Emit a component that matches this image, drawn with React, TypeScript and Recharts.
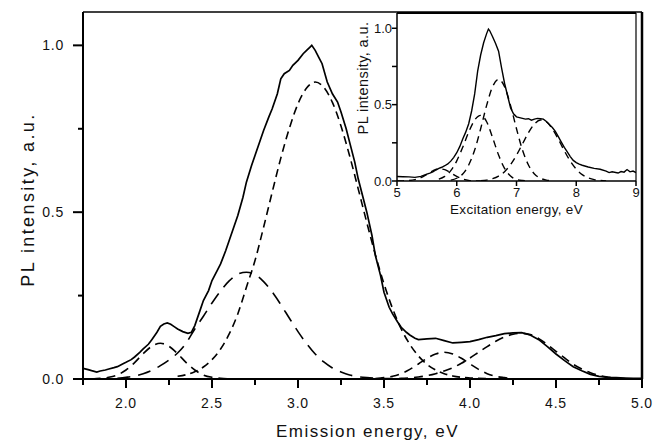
import React from "react";
import { LineChart, Line, XAxis, YAxis, ReferenceLine, Label } from "recharts";

type Pair = [number, number];

// main panel: measured emission spectrum and the fitted bands (energy eV, intensity)
const emissionMeasured: Pair[] = [
  [1.75, 0.032], [1.78, 0.028], [1.8, 0.025], [1.83, 0.021], [1.85, 0.024], [1.88, 0.027],
  [1.9, 0.03], [1.93, 0.034], [1.95, 0.037], [1.98, 0.045], [2.0, 0.05], [2.03, 0.058],
  [2.05, 0.066], [2.08, 0.08], [2.1, 0.09], [2.13, 0.104], [2.15, 0.118], [2.18, 0.14],
  [2.2, 0.158], [2.22, 0.165], [2.24, 0.168], [2.26, 0.164], [2.28, 0.157], [2.3, 0.15],
  [2.33, 0.142], [2.36, 0.137], [2.38, 0.14], [2.4, 0.16], [2.43, 0.205], [2.45, 0.235],
  [2.48, 0.265], [2.5, 0.295], [2.53, 0.325], [2.55, 0.345], [2.58, 0.385], [2.6, 0.415],
  [2.63, 0.46], [2.65, 0.49], [2.68, 0.545], [2.7, 0.59], [2.73, 0.64], [2.75, 0.67],
  [2.78, 0.715], [2.8, 0.745], [2.83, 0.785], [2.85, 0.81], [2.88, 0.855], [2.9, 0.9],
  [2.92, 0.915], [2.95, 0.925], [2.97, 0.94], [3.0, 0.955], [3.03, 0.975], [3.05, 0.985],
  [3.07, 0.995], [3.08, 1.0], [3.1, 0.985], [3.12, 0.965], [3.14, 0.945], [3.17, 0.89],
  [3.2, 0.855], [3.23, 0.83], [3.25, 0.8], [3.28, 0.75], [3.3, 0.71], [3.33, 0.65],
  [3.35, 0.6], [3.38, 0.54], [3.4, 0.5], [3.43, 0.43], [3.45, 0.37], [3.48, 0.31],
  [3.5, 0.26], [3.53, 0.215], [3.55, 0.195], [3.58, 0.17], [3.6, 0.155], [3.63, 0.14],
  [3.65, 0.132], [3.68, 0.122], [3.7, 0.118], [3.75, 0.12], [3.8, 0.122], [3.85, 0.115],
  [3.9, 0.108], [3.95, 0.11], [4.0, 0.112], [4.05, 0.118], [4.1, 0.125], [4.15, 0.13],
  [4.2, 0.136], [4.25, 0.138], [4.3, 0.139], [4.35, 0.132], [4.4, 0.118], [4.45, 0.097],
  [4.5, 0.075], [4.55, 0.055], [4.6, 0.037], [4.65, 0.025], [4.7, 0.014], [4.75, 0.008],
  [4.8, 0.005], [4.85, 0.004], [4.9, 0.003], [4.95, 0.002], [5.0, 0.002],
];

const emissionBand22: Pair[] = [
  [1.8, 0.0], [1.85, 0.002], [1.9, 0.005], [1.95, 0.012], [2.0, 0.027], [2.05, 0.049],
  [2.1, 0.076], [2.15, 0.098], [2.2, 0.107], [2.25, 0.098], [2.3, 0.076], [2.35, 0.049],
  [2.4, 0.027], [2.45, 0.012], [2.5, 0.005], [2.55, 0.002], [2.6, 0.0],
];

const emissionBand27: Pair[] = [
  [1.95, 0.002], [2.0, 0.005], [2.05, 0.009], [2.1, 0.016], [2.15, 0.026], [2.2, 0.04],
  [2.25, 0.057], [2.3, 0.078], [2.35, 0.108], [2.4, 0.15], [2.45, 0.188], [2.5, 0.228],
  [2.55, 0.264], [2.6, 0.294], [2.65, 0.314], [2.7, 0.32], [2.75, 0.313], [2.8, 0.292],
  [2.85, 0.261], [2.9, 0.223], [2.95, 0.182], [3.0, 0.142], [3.05, 0.106], [3.1, 0.075],
  [3.15, 0.051], [3.2, 0.033], [3.25, 0.021], [3.3, 0.012], [3.35, 0.007], [3.4, 0.004],
  [3.5, 0.001],
];

const emissionBand31: Pair[] = [
  [2.3, 0.008], [2.35, 0.013], [2.4, 0.022], [2.45, 0.036], [2.5, 0.058], [2.55, 0.09],
  [2.6, 0.135], [2.65, 0.195], [2.7, 0.275], [2.75, 0.355], [2.8, 0.455], [2.85, 0.56],
  [2.9, 0.662], [2.95, 0.752], [3.0, 0.825], [3.05, 0.872], [3.1, 0.89], [3.15, 0.874],
  [3.2, 0.829], [3.25, 0.758], [3.3, 0.669], [3.35, 0.57], [3.4, 0.469], [3.45, 0.372],
  [3.5, 0.285], [3.55, 0.211], [3.6, 0.15], [3.65, 0.104], [3.7, 0.069], [3.75, 0.044],
  [3.8, 0.027], [3.85, 0.016], [3.9, 0.009], [3.95, 0.005], [4.0, 0.003], [4.1, 0.001],
];

const emissionBand385: Pair[] = [
  [3.45, 0.001], [3.5, 0.004], [3.55, 0.008], [3.6, 0.016], [3.65, 0.029], [3.7, 0.045],
  [3.75, 0.062], [3.8, 0.075], [3.85, 0.08], [3.9, 0.075], [3.95, 0.062], [4.0, 0.045],
  [4.05, 0.029], [4.1, 0.016], [4.15, 0.008], [4.2, 0.004], [4.25, 0.001],
];

const emissionBand43: Pair[] = [
  [3.5, 0.001], [3.55, 0.001], [3.6, 0.002], [3.65, 0.003], [3.7, 0.006], [3.75, 0.01],
  [3.8, 0.016], [3.85, 0.024], [3.9, 0.034], [3.95, 0.047], [4.0, 0.063], [4.05, 0.08],
  [4.1, 0.097], [4.15, 0.113], [4.2, 0.126], [4.25, 0.134], [4.3, 0.137], [4.35, 0.133],
  [4.4, 0.121], [4.45, 0.103], [4.5, 0.083], [4.55, 0.063], [4.6, 0.044], [4.65, 0.03],
  [4.7, 0.019], [4.75, 0.011], [4.8, 0.006], [4.85, 0.003], [4.9, 0.001], [5.0, 0.0],
];

// inset: excitation spectrum and its bands
const excitationMeasured: Pair[] = [
  [5.0, 0.029], [5.1, 0.028], [5.2, 0.027], [5.3, 0.024], [5.4, 0.03], [5.5, 0.045],
  [5.55, 0.052], [5.6, 0.06], [5.65, 0.072], [5.7, 0.082], [5.75, 0.09], [5.8, 0.1],
  [5.85, 0.112], [5.9, 0.13], [5.95, 0.155], [6.0, 0.185], [6.05, 0.225], [6.1, 0.275],
  [6.15, 0.32], [6.2, 0.375], [6.25, 0.46], [6.3, 0.57], [6.35, 0.72], [6.4, 0.825],
  [6.45, 0.905], [6.5, 0.965], [6.53, 0.995], [6.55, 0.985], [6.6, 0.945], [6.65, 0.9],
  [6.7, 0.85], [6.75, 0.74], [6.8, 0.64], [6.85, 0.56], [6.9, 0.48], [6.95, 0.44],
  [7.0, 0.42], [7.05, 0.415], [7.1, 0.41], [7.15, 0.405], [7.2, 0.408], [7.25, 0.398],
  [7.3, 0.405], [7.35, 0.41], [7.4, 0.408], [7.45, 0.405], [7.5, 0.39], [7.55, 0.37],
  [7.6, 0.35], [7.65, 0.325], [7.7, 0.29], [7.75, 0.255], [7.8, 0.22], [7.85, 0.19],
  [7.9, 0.16], [7.95, 0.135], [8.0, 0.12], [8.05, 0.11], [8.1, 0.103], [8.2, 0.092],
  [8.3, 0.083], [8.4, 0.077], [8.5, 0.065], [8.55, 0.055], [8.6, 0.06], [8.7, 0.052],
  [8.75, 0.062], [8.8, 0.058], [8.85, 0.075], [8.9, 0.06], [8.95, 0.065], [9.0, 0.055],
];

const excitationBand57: Pair[] = [
  [5.0, 0.0], [5.1, 0.001], [5.2, 0.003], [5.3, 0.009], [5.4, 0.022], [5.5, 0.044],
  [5.6, 0.067], [5.7, 0.08], [5.8, 0.074], [5.9, 0.053], [6.0, 0.03], [6.1, 0.013],
  [6.2, 0.004], [6.3, 0.001], [6.4, 0.0],
];

const excitationBand64: Pair[] = [
  [5.7, 0.012], [5.8, 0.03], [5.9, 0.068], [6.0, 0.132], [6.1, 0.221], [6.2, 0.32],
  [6.3, 0.399], [6.4, 0.43], [6.5, 0.388], [6.6, 0.284], [6.7, 0.17], [6.8, 0.083],
  [6.9, 0.033], [7.0, 0.01], [7.1, 0.003], [7.2, 0.001],
];

const excitationBand67: Pair[] = [
  [5.9, 0.006], [6.0, 0.018], [6.1, 0.046], [6.2, 0.105], [6.3, 0.203], [6.4, 0.342],
  [6.5, 0.495], [6.6, 0.618], [6.7, 0.665], [6.8, 0.618], [6.9, 0.495], [7.0, 0.342],
  [7.1, 0.203], [7.2, 0.105], [7.3, 0.046], [7.4, 0.018], [7.5, 0.006], [7.6, 0.002],
];

const excitationBand74: Pair[] = [
  [6.4, 0.002], [6.5, 0.006], [6.6, 0.015], [6.7, 0.032], [6.8, 0.061], [6.9, 0.107],
  [7.0, 0.169], [7.1, 0.243], [7.2, 0.316], [7.3, 0.373], [7.4, 0.399], [7.5, 0.388],
  [7.6, 0.341], [7.7, 0.273], [7.8, 0.198], [7.9, 0.13], [8.0, 0.078], [8.1, 0.042],
  [8.2, 0.021], [8.3, 0.009], [8.4, 0.004], [8.5, 0.001],
];

const mainXTicks = [1.75, 2, 2.25, 2.5, 2.75, 3, 3.25, 3.5, 3.75, 4, 4.25, 4.5, 4.75, 5];
const mainYTicks = [0, 0.25, 0.5, 0.75, 1];
const insetXTicks = [5, 6, 7, 8, 9];
const insetYTicks = [0, 0.25, 0.5, 0.75, 1];

const FONT = '"Liberation Sans", Arial, sans-serif';
const INK = "#111";

const toRows = (pairs: Pair[]) => pairs.map(([x, y]) => ({ x, y }));
const isHalf = (v: number) => Math.abs(v * 2 - Math.round(v * 2)) < 1e-6;

function MainXTick({ x, y, payload }: any) {
  const v = payload.value;
  const major = isHalf(v);
  return (
    <g>
      <line x1={x} x2={x} y1={y} y2={y + (major ? 9 : 6)} stroke="#000" strokeWidth={2} />
      {major && (
        <text x={x} y={y + 28.5} textAnchor="middle" fontSize={14} fontFamily={FONT} letterSpacing={0.8} fill={INK}>
          {v.toFixed(1)}
        </text>
      )}
    </g>
  );
}

function MainYTick({ x, y, payload }: any) {
  const v = payload.value;
  const major = isHalf(v);
  return (
    <g>
      <line x1={x} x2={x - (major ? 10 : 5)} y1={y} y2={y} stroke="#000" strokeWidth={2} />
      {major && (
        <text x={x - 19} y={y + 5} textAnchor="end" fontSize={14} fontFamily={FONT} letterSpacing={0.8} fill={INK}>
          {v.toFixed(1)}
        </text>
      )}
    </g>
  );
}

function InsetXTick({ x, y, payload }: any) {
  return (
    <g>
      <line x1={x} x2={x} y1={y} y2={y + 5} stroke="#000" strokeWidth={1.5} />
      <text x={x} y={y + 16} textAnchor="middle" fontSize={13} fontFamily={FONT} fill={INK}>
        {payload.value}
      </text>
    </g>
  );
}

function InsetYTick({ x, y, payload }: any) {
  const v = payload.value;
  const major = isHalf(v);
  return (
    <g>
      <line x1={x} x2={x - 5} y1={y} y2={y} stroke="#000" strokeWidth={1.5} />
      {major && (
        <text x={x - 5} y={y + 4.5} textAnchor="end" fontSize={13} fontFamily={FONT} fill={INK}>
          {v.toFixed(1)}
        </text>
      )}
    </g>
  );
}

const mainSeries = [
  { data: emissionBand22, dash: "9 6" },
  { data: emissionBand27, dash: "13 8" },
  { data: emissionBand31, dash: "8 5" },
  { data: emissionBand385, dash: "9 6" },
  { data: emissionBand43, dash: "9 6" },
];

const insetSeries = [excitationBand57, excitationBand64, excitationBand67, excitationBand74];

export default function App() {
  return (
    <div style={{ position: "absolute", left: 0, top: 0, width: 653, height: 440, background: "#fff" }}>
      <div style={{ position: "absolute", left: 0, top: 0 }}>
        <LineChart width={653} height={440} margin={{ top: 12, right: 11, bottom: 0, left: 0 }}>
          <XAxis
            dataKey="x"
            type="number"
            domain={[1.75, 5]}
            ticks={mainXTicks}
            interval={0}
            height={61}
            tickSize={0}
            tickMargin={0}
            tick={<MainXTick />}
            axisLine={{ stroke: "#000", strokeWidth: 2 }}
            allowDataOverflow
          >
            <Label
              value="Emission energy, eV"
              position="center"
              dx={5}
              dy={21}
              style={{ fontFamily: FONT, fontSize: 17, letterSpacing: 1.5, fill: INK }}
            />
          </XAxis>
          <YAxis
            dataKey="y"
            type="number"
            domain={[0, 1.1]}
            ticks={mainYTicks}
            interval={0}
            width={83}
            tickSize={0}
            tickMargin={0}
            tick={<MainYTick />}
            axisLine={{ stroke: "#000", strokeWidth: 2 }}
            allowDataOverflow
          >
            <Label
              value="PL intensity, a.u."
              position="center"
              angle={-90}
              dx={-13.5}
              dy={4}
              style={{ fontFamily: FONT, fontSize: 18, letterSpacing: 2.4, fill: INK, textAnchor: "middle" }}
            />
          </YAxis>
          <ReferenceLine y={1.1} stroke="#000" strokeWidth={1.5} />
          <ReferenceLine x={5} stroke="#000" strokeWidth={2.5} />
          {mainSeries.map((s, i) => (
            <Line
              key={i}
              data={toRows(s.data)}
              dataKey="y"
              type="monotone"
              stroke="#000"
              strokeWidth={1.6}
              strokeDasharray={s.dash}
              dot={false}
              activeDot={false}
              isAnimationActive={false}
            />
          ))}
          <Line
            data={toRows(emissionMeasured)}
            dataKey="y"
            type="linear"
            stroke="#000"
            strokeWidth={1.7}
            dot={false}
            activeDot={false}
            isAnimationActive={false}
          />
        </LineChart>
      </div>
      <div style={{ position: "absolute", left: 340, top: 0 }}>
        <LineChart width={300} height={225} margin={{ top: 13, right: 4, bottom: 0, left: 0 }}>
          <XAxis
            dataKey="x"
            type="number"
            domain={[5, 9]}
            ticks={insetXTicks}
            interval={0}
            height={44}
            tickSize={0}
            tickMargin={0}
            tick={<InsetXTick />}
            axisLine={{ stroke: "#000", strokeWidth: 1.5 }}
            allowDataOverflow
          >
            <Label
              value="Excitation energy, eV"
              position="center"
              dy={6}
              style={{ fontFamily: FONT, fontSize: 13.5, letterSpacing: 0.3, fill: INK }}
            />
          </XAxis>
          <YAxis
            dataKey="y"
            type="number"
            domain={[0, 1.1]}
            ticks={insetYTicks}
            interval={0}
            width={57}
            tickSize={0}
            tickMargin={0}
            tick={<InsetYTick />}
            axisLine={{ stroke: "#000", strokeWidth: 1.5 }}
            allowDataOverflow
          >
            <Label
              value="PL intensity, a.u."
              position="center"
              angle={-90}
              dx={-5.5}
              dy={-19}
              style={{ fontFamily: FONT, fontSize: 14.5, letterSpacing: 0.4, fill: INK, textAnchor: "middle" }}
            />
          </YAxis>
          <ReferenceLine y={1.1} stroke="#000" strokeWidth={2} />
          <ReferenceLine x={9} stroke="#000" strokeWidth={1.2} />
          {insetSeries.map((d, i) => (
            <Line
              key={i}
              data={toRows(d)}
              dataKey="y"
              type="monotone"
              stroke="#000"
              strokeWidth={1.4}
              strokeDasharray="7 5"
              dot={false}
              activeDot={false}
              isAnimationActive={false}
            />
          ))}
          <Line
            data={toRows(excitationMeasured)}
            dataKey="y"
            type="linear"
            stroke="#000"
            strokeWidth={1.4}
            dot={false}
            activeDot={false}
            isAnimationActive={false}
          />
        </LineChart>
      </div>
    </div>
  );
}
